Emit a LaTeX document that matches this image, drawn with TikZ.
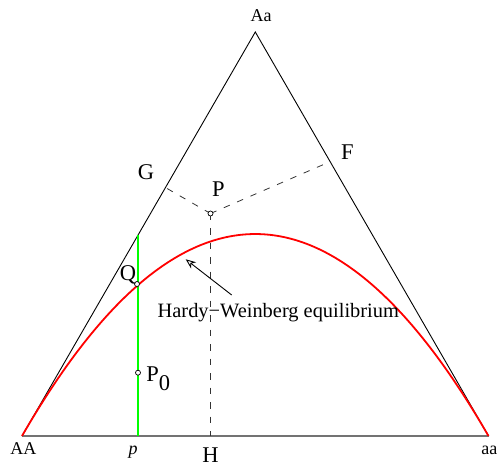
\documentclass[tikz,border=0pt]{standalone}
\usepackage{fontspec}
\setmainfont{Liberation Serif}
\usetikzlibrary{arrows.meta}
\tikzset{
  edge/.style={draw=black, line width=0.9pt},
  baseedge/.style={draw=black!55, line width=1.4pt},
  dropline/.style={draw=black!80, line width=0.8pt, dash pattern=on 6.5pt off 8pt},
  hwcurve/.style={draw=red, line width=1.8pt},
  pline/.style={draw=green, line width=1.8pt},
  dot/.style={circle, draw=black, fill=white, line width=0.7pt, minimum size=5pt, inner sep=0pt},
  smalllab/.style={inner sep=0pt, anchor=base, font=\fontsize{18}{20}\selectfont},
  biglab/.style={inner sep=0pt, anchor=base, font=\fontsize{22.5}{24}\selectfont},
  hwlab/.style={inner sep=0pt, anchor=base, font=\fontsize{20.4}{22}\selectfont},
  pointer/.style={draw=black, line width=0.9pt, -{Stealth[open, length=10pt, width=8pt, inset=3pt]}}
}
\begin{document}
\begin{tikzpicture}[x=1pt, y=-1pt]
\useasboundingbox (0,0) rectangle (498,466);
% vertices
\coordinate (AAv) at (22,436);
\coordinate (aav) at (488.5,436);
\coordinate (Aav) at (255.3,32);
% triangle
\draw[edge] (AAv) -- (Aav) -- (aav);
\draw[baseedge] (AAv) -- (aav);
% feet of the dashed lines
\coordinate (Gf) at (165.7,187.7);
\coordinate (Ff) at (330.5,161.5);
\coordinate (Hf) at (210.5,436);
\coordinate (Pc) at (210.5,213.5);
\draw[dropline] (Pc) -- (Gf);
\draw[dropline] (Pc) -- (Ff);
\draw[dropline] (Pc) -- (Hf);
% green line
\coordinate (pbot) at (138,436);
\coordinate (ptop) at (138,235.1);
\draw[pline] (pbot) -- (ptop);
% Hardy-Weinberg curve
\draw[hwcurve] (AAv) .. controls (177.5,166.7) and (333,166.7) .. (aav);
% arrow
\coordinate (arrtail) at (231.7,295);
\coordinate (arrhead) at (185.7,259.3);
\draw[pointer] (arrtail) -- (arrhead);
% points
\node[dot] (P) at (Pc) {};
\node[dot] (Qd) at (137,284) {};
\node[dot] (P0d) at (138,372.7) {};
% labels
\node[smalllab] (Aa) at (261,21.7) {Aa};
\node[smalllab] (AA) at (23.3,454) {AA};
\node[smalllab] (aa) at (489.3,454) {aa};
\node[smalllab] (plab) at (133,454) {\itshape p};
\node[biglab] (H) at (210.5,462.5) {H};
\node[biglab] (G) at (146,179.3) {G};
\node[biglab] (Plab) at (218.3,196.7) {P};
\node[biglab] (F) at (347.5,159.3) {F};
\node[biglab] (Q) at (128,280) {Q};
\node[biglab, anchor=base west] (P0) at (146.2,381.7) {P\raisebox{-9pt}{0}};
\node[hwlab] (HW) at (278.3,317.3) {Hardy−Weinberg equilibrium};
\end{tikzpicture}
\end{document}
